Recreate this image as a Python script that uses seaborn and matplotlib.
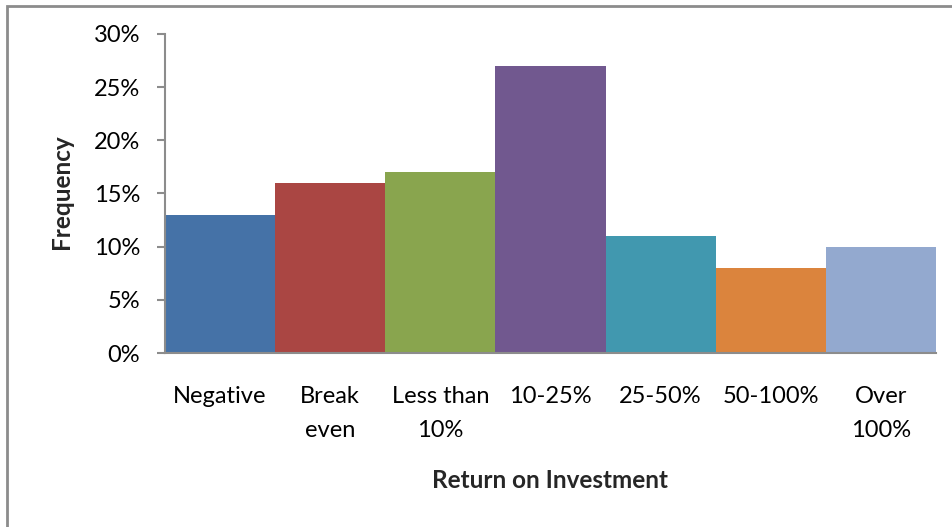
import matplotlib
matplotlib.use("Agg")
import matplotlib.pyplot as plt
from matplotlib.patches import Rectangle
from matplotlib.ticker import PercentFormatter
import seaborn as sns
import pandas as pd

categories = ["Negative", "Break\neven", "Less than\n10%", "10-25%", "25-50%", "50-100%", "Over\n100%"]
frequency = [0.13, 0.16, 0.17, 0.27, 0.11, 0.08, 0.10]
colors = ["#4572A7", "#AA4643", "#89A54E", "#71588F", "#4198AF", "#DB843D", "#93A9CF"]
y_ticks = [0.0, 0.05, 0.10, 0.15, 0.20, 0.25, 0.30]

sns.set_style("white")
plt.rcParams["font.family"] = ["Lato", "DejaVu Sans"]

df = pd.DataFrame({"category": categories, "frequency": frequency})

W, H = 953, 527
fig = plt.figure(figsize=(W / 100, H / 100), dpi=100)
ax = fig.add_axes([165 / W, 1 - 353 / H, (936 - 165) / W, (353 - 34) / H])

sns.barplot(data=df, x="category", y="frequency", hue="category",
            palette=colors, legend=False, width=1.0, saturation=1.0,
            edgecolor="none", ax=ax)

ax.set_xlim(-0.5, len(categories) - 0.5)
ax.set_ylim(0, 0.30)
ax.set_yticks(y_ticks)
ax.yaxis.set_major_formatter(PercentFormatter(1.0, decimals=0))

for side in ("top", "right"):
    ax.spines[side].set_visible(False)
for side in ("left", "bottom"):
    ax.spines[side].set_color("#8c8c8c")
    ax.spines[side].set_linewidth(1.5)

ax.tick_params(axis="y", which="major", left=True, length=6, width=1.5,
               color="#8c8c8c", labelsize=17, pad=12, labelcolor="black")
ax.tick_params(axis="x", which="major", bottom=False, labelsize=17, pad=20,
               labelcolor="black")
for lbl in ax.get_xticklabels():
    lbl.set_linespacing(1.8)
    lbl.set_verticalalignment("top")

ax.set_xlabel("Return on Investment", fontsize=17.5, fontweight="bold")
ax.set_ylabel("Frequency", fontsize=17.5, fontweight="bold")
ax.xaxis.set_label_coords((550 - 165) / (936 - 165), -(481 - 353) / (353 - 34))
ax.yaxis.set_label_coords(-(165 - 62) / (936 - 165), (353 - 192) / (353 - 34))
ax.xaxis.label.set_verticalalignment("center")
ax.yaxis.label.set_verticalalignment("center")

# chart-area frame, open on the right and bottom edges
fig.patches.append(Rectangle((7 / W, -0.1), 1.2, 1 - 6 / H + 0.1,
                             transform=fig.transFigure, fill=False,
                             edgecolor="#8c8c8c", linewidth=2))

fig.savefig("out.png", dpi=100)
